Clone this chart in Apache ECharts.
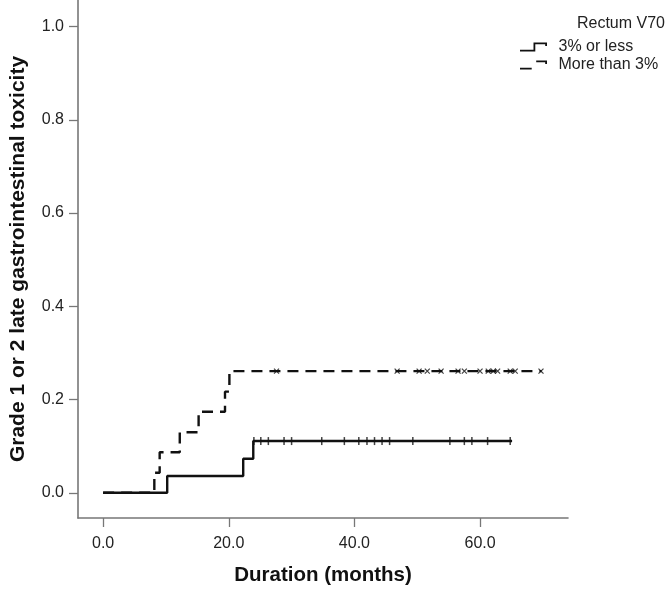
<!DOCTYPE html>
<html>
<head>
<meta charset="utf-8">
<script src="https://cdn.jsdelivr.net/npm/echarts@6/dist/echarts.min.js"></script>
<style>
html,body{margin:0;padding:0;background:#fff;}
#chart{width:667px;height:591px;}
</style>
</head>
<body>
<div id="chart"></div>
<script>
// ---- data ----
const seriesNames = ['3% or less', 'More than 3%'];
const legendTitle = 'Rectum V70';

// step curve for "3% or less" (event times in months, cumulative incidence)
const lowTimes = [0, 10.2, 22.3, 23.9, 65.1];
const lowRisk  = [0, 0.036, 0.073, 0.111, 0.111];
const lowCensor = [24.0, 25.1, 26.3, 28.8, 30.0, 34.8, 38.4, 40.7, 42.0, 43.2, 44.4, 45.6, 49.3, 55.2, 57.5, 58.7, 61.2, 64.8];

// step curve for "More than 3%"
const highTimes = [0, 8.15, 9.0, 12.2, 15.2, 19.4, 20.1, 69.8];
const highRisk  = [0, 0.043, 0.087, 0.130, 0.174, 0.217, 0.261, 0.261];
const highCensor = [27.6, 46.8, 50.3, 51.6, 53.8, 56.5, 57.5, 60.0, 61.3, 62.1, 62.8, 64.8, 65.6, 69.7];

const xTicks = [0, 20, 40, 60];
const yTicks = [0, 0.2, 0.4, 0.6, 0.8, 1.0];

// ---- helpers ----
function pairs(xs, ys) { return xs.map((x, i) => [x, ys[i]]); }
function levelAt(times, risk, t) {
  let v = risk[0];
  for (let i = 0; i < times.length; i++) { if (times[i] <= t) v = risk[i]; }
  return v;
}
function censorPoints(times, risk, cens) { return cens.map(t => [t, levelAt(times, risk, t)]); }

const FONT = "'Liberation Sans', Arial, sans-serif";
const axisGray = '#777777';

const chart = echarts.init(document.getElementById('chart'), null, {renderer: 'canvas'});
chart.setOption({
  animation: false,
  backgroundColor: '#fff',
  textStyle: {fontFamily: FONT},
  title: {
    text: legendTitle,
    right: 2, top: 16, padding: 0,
    textStyle: {fontFamily: FONT, fontSize: 16, fontWeight: 'normal', color: '#222'}
  },
  legend: {
    data: [
      {name: seriesNames[0], icon: 'path://M0,8 L15,8 L15,0 L30,0 L30,4 L28,4 L28,2 L17,2 L17,10 L0,10 Z'},
      {name: seriesNames[1], icon: 'path://M0,8 L13,8 L13,10 L0,10 Z M18,0 L30,0 L30,4 L28,4 L28,2 L18,2 Z'}
    ],
    orient: 'vertical',
    left: 520, top: 38, padding: 0,
    itemWidth: 30, itemHeight: 9, itemGap: 0,
    itemStyle: {color: '#111', borderWidth: 0},
    textStyle: {fontFamily: FONT, fontSize: 16, color: '#222', lineHeight: 18, padding: [0, 0, 0, 5]}
  },
  grid: {left: 68, right: 99, top: 0, bottom: 68, containLabel: false},
  xAxis: {
    type: 'value', min: -4, max: 74,
    name: 'Duration (months)', nameLocation: 'middle', nameGap: 47,
    nameTextStyle: {fontFamily: FONT, fontSize: 20.5, fontWeight: 'bold', color: '#111'},
    axisLine: {show: true, onZero: false, lineStyle: {color: axisGray, width: 1.6}},
    axisTick: {show: true, length: 9, customValues: xTicks, lineStyle: {color: axisGray, width: 1.3}},
    axisLabel: {customValues: xTicks, margin: 18, fontSize: 16, color: '#222', fontFamily: FONT,
      formatter: v => Number(v).toFixed(1)},
    splitLine: {show: false}
  },
  yAxis: {
    type: 'value', min: -0.054, max: 1.057,
    name: 'Grade 1 or 2 late gastrointestinal toxicity', nameLocation: 'middle', nameGap: 49,
    nameTextStyle: {fontFamily: FONT, fontSize: 21, fontWeight: 'bold', color: '#111'},
    axisLine: {show: true, onZero: false, lineStyle: {color: axisGray, width: 1.6}},
    axisTick: {show: true, length: 9, customValues: yTicks, lineStyle: {color: axisGray, width: 1.3}},
    axisLabel: {customValues: yTicks, margin: 14, fontSize: 16, color: '#222', fontFamily: FONT,
      formatter: v => Number(v).toFixed(1)},
    splitLine: {show: false}
  },
  series: [
    {
      name: seriesNames[0], type: 'line', step: 'end', symbol: 'none',
      data: pairs(lowTimes, lowRisk),
      lineStyle: {color: '#111', width: 2.4, type: 'solid'},
      itemStyle: {color: '#111'}, z: 3
    },
    {
      name: seriesNames[1], type: 'line', step: 'end', symbol: 'none',
      data: pairs(highTimes, highRisk),
      lineStyle: {color: '#111', width: 2.4, type: [11, 7]},
      itemStyle: {color: '#111'}, z: 2
    },
    {
      name: 'censor-low', type: 'scatter',
      data: censorPoints(lowTimes, lowRisk, lowCensor),
      symbol: 'path://M0,0 L1,0 L1,8 L0,8 Z', symbolSize: [1.5, 8],
      itemStyle: {color: '#111'}, z: 4, silent: true
    },
    {
      name: 'censor-high', type: 'scatter',
      data: censorPoints(highTimes, highRisk, highCensor),
      symbol: 'path://M0,0 L10,10 M10,0 L0,10', symbolSize: 5,
      itemStyle: {color: 'none', borderColor: '#111', borderWidth: 1.2}, z: 4, silent: true
    }
  ]
});
</script>
</body>
</html>
